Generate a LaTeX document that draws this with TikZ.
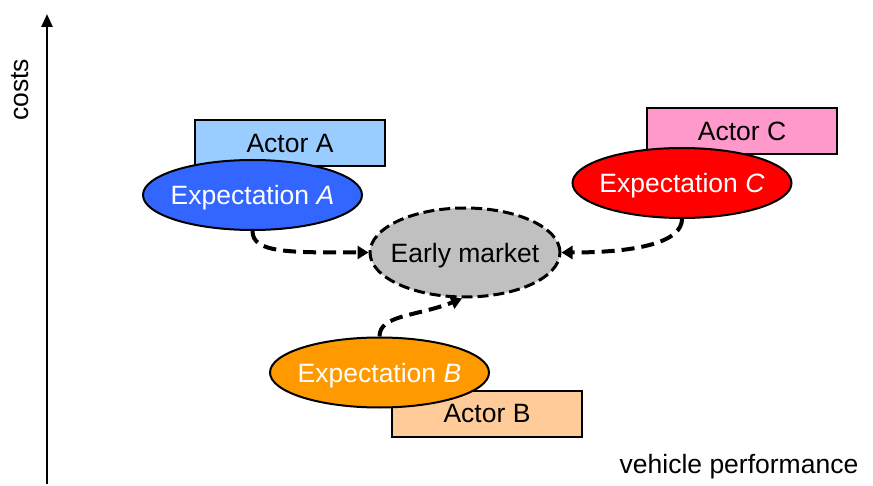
\documentclass[tikz,border=0pt]{standalone}
\usepackage{fontspec}
\setmainfont{Liberation Sans}
\usetikzlibrary{shapes.geometric,arrows.meta}
\definecolor{blueA}{HTML}{3366FF}
\definecolor{lblueA}{HTML}{99CCFF}
\definecolor{redC}{HTML}{FF0000}
\definecolor{pinkC}{HTML}{FF99CC}
\definecolor{orangeB}{HTML}{FF9900}
\definecolor{peachB}{HTML}{FFCC99}
\definecolor{grayM}{HTML}{C0C0C0}
\tikzset{
  lbl/.style={font=\fontsize{26.5}{31}\selectfont},
  actor/.style={lbl, draw=black, line width=2pt, rectangle, minimum width=190pt, minimum height=46pt, inner sep=0pt},
  expect/.style={lbl, text depth=0pt, draw=black, line width=2pt, ellipse, minimum width=219pt, minimum height=70pt, inner xsep=-12pt, inner ysep=0pt, text=white},
  market/.style={lbl, text depth=0pt, draw=black, line width=3pt, dash pattern=on 11pt off 5pt, ellipse, fill=grayM, minimum width=190pt, minimum height=89pt, inner xsep=-12pt, inner ysep=0pt},
  arr/.style={line width=4pt, dash pattern=on 13pt off 7pt, -{Triangle[length=11pt,width=13pt]}},
  axis/.style={line width=2.5pt, -{Triangle[length=13pt,width=11pt]}}
}
\begin{document}
\begin{tikzpicture}[x=1pt,y=-1pt]
\useasboundingbox (0,0) rectangle (873,486);
% axis
\coordinate (o) at (47,484);
\coordinate (top) at (47,14);
\draw[axis] (o) -- (top);
\node[lbl, rotate=90] (costs) at (20,90) {costs};
\node[lbl] (perf) at (739,467) {vehicle performance};
% actors
\node[actor, fill=lblueA] (AA) at (290,143.5) {Actor A};
\node[actor, fill=pinkC] (AC) at (742,131.5) {Actor C};
\node[actor, fill=peachB] (AB) at (487,413.5) {Actor B};
% expectations
\node[expect, fill=blueA] (EA) at (252.5,195) {Expectation \textit{A}};
\node[expect, fill=redC] (EC) at (682,183) {Expectation \textit{C}};
\node[expect, fill=orangeB] (EB) at (379.5,372.5) {Expectation \textit{B}};
% early market
\node[market] (EM) at (465,252.5) {Early market};
% arrows
\draw[arr] (EA.south) .. controls +(0,22) and +(-80,0) .. (EM.west);
\draw[arr] (EC.south) .. controls +(0,22) and +(80,0) .. (EM.east);
\draw[arr] (EB.north) .. controls +(0,-22) and +(-45,18) .. ([xshift=-3pt]EM.south);
\end{tikzpicture}
\end{document}
